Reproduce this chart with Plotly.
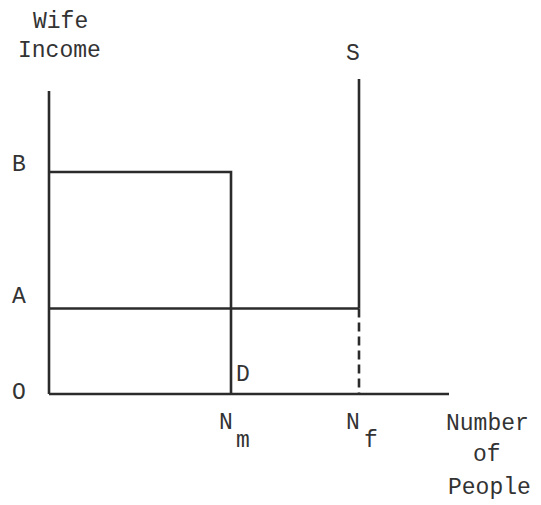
import plotly.graph_objects as go

# ---- data (diagram units) ----
x_labels = ["N", "N"]
x_subs = ["m", "f"]
x_vals = [4.55, 7.75]          # N_m, N_f
y_labels = ["O", "A", "B"]
y_vals = [0.0, 2.85, 7.4]      # O, A, B
axis_x_end = 10.0
axis_y_top = 10.1
supply_top = 10.5

Nm, Nf = x_vals
A, B = y_vals[1], y_vals[2]

LINE = "#2b2b2b"
W = 2.6
FONT = dict(family="Liberation Mono, Courier New, monospace", size=23, color="#333333")

fig = go.Figure()

def seg(xs, ys, dash="solid"):
    fig.add_trace(go.Scatter(x=xs, y=ys, mode="lines",
                             line=dict(color=LINE, width=W, dash=dash),
                             hoverinfo="skip", showlegend=False))

# axes
seg([0, 0], [axis_y_top, 0])
seg([0, axis_x_end], [0, 0])
# demand (rectangle B - Nm)
seg([0, Nm, Nm], [B, B, 0])
# line A to S
seg([0, Nf], [A, A])
# supply S vertical
seg([Nf, Nf], [supply_top, A])
seg([Nf, Nf], [A, 0], dash="9px,5px")

def ann(text, x, y, xanchor="center"):
    fig.add_annotation(x=x, y=y, xref="x", yref="y", text=text, showarrow=False,
                       font=FONT, xanchor=xanchor, yanchor="middle")

# y labels
for lab, v, dy in zip(y_labels, y_vals, [0.03, 0.38, 0.23]):
    ann(lab, -0.75, v + dy)
# x labels
for lab, sub, v, dx in zip(x_labels, x_subs, x_vals, [(-0.13, 0.3), (-0.15, 0.3)]):
    ann(lab, v + dx[0], -0.97)
    ann(sub, v + dx[1], -1.57)

ann("Wife", 0.275, 12.4)
ann("Income", 0.25, 11.43)
ann("S", Nf - 0.15, 11.33)
ann("D", Nm + 0.3, 0.63)
ann("Number", 10.95, -1.0)
ann("of", 10.95, -2.03)
ann("People", 11.0, -3.13)

# page body has an 8px margin: figure spans page pixels 8..541 x 8..505
fig.update_layout(
    width=533, height=497,
    margin=dict(l=0, r=0, t=0, b=0),
    paper_bgcolor="white", plot_bgcolor="white",
    xaxis=dict(range=[-1.025, 12.3], visible=False, fixedrange=True),
    yaxis=dict(range=[-3.7, 12.867], visible=False, fixedrange=True),
    showlegend=False,
)

fig.write_html("out.html")
